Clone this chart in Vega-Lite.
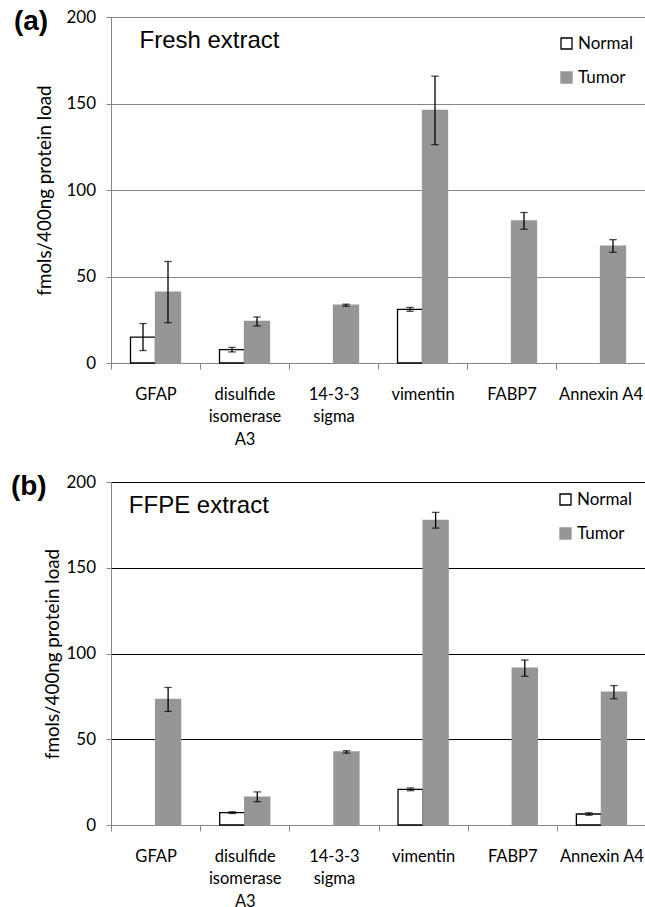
{
  "$schema": "https://vega.github.io/schema/vega-lite/v6.json",
  "padding": {"left": 10, "top": 7, "right": 0, "bottom": 0},
  "spacing": 119,
  "bounds": "flush",
  "config": {
    "font": "Lato",
    "axis": {"labelColor": "black", "titleColor": "black", "labelFont": "Lato", "titleFont": "Lato"}
  },
  "datasets": {
    "fresh": [
      {"protein": "GFAP", "group": "Normal", "value": 15.0, "lo": 7.2, "hi": 22.8},
      {"protein": "GFAP", "group": "Tumor", "value": 41.0, "lo": 23.3, "hi": 58.7},
      {"protein": "disulfide isomerase A3", "group": "Normal", "value": 7.7, "lo": 6.4, "hi": 9.0},
      {"protein": "disulfide isomerase A3", "group": "Tumor", "value": 24.0, "lo": 21.4, "hi": 26.6},
      {"protein": "14-3-3 sigma", "group": "Tumor", "value": 33.4, "lo": 32.8, "hi": 34.0},
      {"protein": "vimentin", "group": "Normal", "value": 31.0, "lo": 29.9, "hi": 32.1},
      {"protein": "vimentin", "group": "Tumor", "value": 146.0, "lo": 126.2, "hi": 165.8},
      {"protein": "FABP7", "group": "Tumor", "value": 82.1, "lo": 77.3, "hi": 87.0},
      {"protein": "Annexin A4", "group": "Tumor", "value": 67.6, "lo": 64.0, "hi": 71.3}
    ],
    "ffpe": [
      {"protein": "GFAP", "group": "Tumor", "value": 73.2, "lo": 66.2, "hi": 80.2},
      {"protein": "disulfide isomerase A3", "group": "Normal", "value": 7.2, "lo": 6.7, "hi": 7.7},
      {"protein": "disulfide isomerase A3", "group": "Tumor", "value": 16.3, "lo": 13.6, "hi": 19.3},
      {"protein": "14-3-3 sigma", "group": "Tumor", "value": 42.6, "lo": 41.9, "hi": 43.3},
      {"protein": "vimentin", "group": "Normal", "value": 20.8, "lo": 20.0, "hi": 21.6},
      {"protein": "vimentin", "group": "Tumor", "value": 177.6, "lo": 173.1, "hi": 182.3},
      {"protein": "FABP7", "group": "Tumor", "value": 91.4, "lo": 86.7, "hi": 96.2},
      {"protein": "Annexin A4", "group": "Normal", "value": 6.4, "lo": 5.7, "hi": 7.1},
      {"protein": "Annexin A4", "group": "Tumor", "value": 77.4, "lo": 73.6, "hi": 81.3}
    ]
  },
  "resolve": {
    "scale": {"fill": "independent", "stroke": "independent", "x": "independent", "y": "independent", "xOffset": "independent"},
    "legend": {"fill": "independent", "stroke": "independent"}
  },
  "vconcat": [
    {
      "width": 534,
      "height": 346,
      "view": {"stroke": "#868686"},
      "title": {"text": "(a)", "orient": "left", "anchor": "end", "frame": "bounds", "angle": 0, "align": "right", "baseline": "top", "font": "Liberation Sans", "fontSize": 28, "fontWeight": "bold", "color": "black", "offset": -46.5},
      "layer": [
        {
          "data": {"name": "fresh"},
          "mark": {"type": "bar", "strokeWidth": 1.3},
          "encoding": {
            "x": {"field": "protein", "type": "nominal", "sort": ["GFAP", "disulfide isomerase A3", "14-3-3 sigma", "vimentin", "FABP7", "Annexin A4"],
              "scale": {"paddingInner": 0, "paddingOuter": 0},
              "axis": {"title": null, "labelAngle": 0, "tickBand": "extent", "domainColor": "#868686", "tickColor": "#868686", "tickSize": 6, "labelPadding": 17, "labelFontSize": 16.5, "labelLineHeight": 22.5, "labelBaseline": "top", "labelLimit": 0,
                "labelExpr": "datum.value == 'disulfide isomerase A3' ? ['disulfide', 'isomerase', 'A3'] : datum.value == '14-3-3 sigma' ? ['14-3-3', 'sigma'] : datum.value"}},
            "xOffset": {"field": "group", "type": "nominal", "scale": {"domain": ["Normal", "Tumor"], "paddingInner": 0, "paddingOuter": 0.78}},
            "y": {"field": "value", "type": "quantitative", "scale": {"domain": [0, 200], "nice": false},
              "axis": {"title": "fmols/400ng protein load", "values": [0, 50, 100, 150, 200], "grid": true, "gridColor": "#868686", "gridOpacity": 1, "domainColor": "#868686", "tickColor": "#868686", "tickSize": 5, "labelPadding": 10.5, "labelFontSize": 17, "titleFontSize": 18.8, "titleFontWeight": "normal", "titlePadding": 11}},
            "fill": {"field": "group", "type": "nominal", "scale": {"domain": ["Normal", "Tumor"], "range": ["white", "#969696"]},
              "legend": {"title": null, "orient": "none", "legendX": 447, "legendY": 18, "symbolType": "square", "symbolSize": 121, "symbolStrokeWidth": 1.3, "labelFontSize": 17, "labelColor": "black", "labelOffset": 3, "rowPadding": 16}},
            "stroke": {"field": "group", "type": "nominal", "scale": {"domain": ["Normal", "Tumor"], "range": ["black", "#969696"]}}
          }
        },
        {
          "data": {"name": "fresh"},
          "mark": {"type": "rule", "color": "black", "strokeWidth": 1.3},
          "encoding": {
            "x": {"field": "protein", "type": "nominal", "sort": ["GFAP", "disulfide isomerase A3", "14-3-3 sigma", "vimentin", "FABP7", "Annexin A4"]},
            "xOffset": {"field": "group", "type": "nominal"},
            "y": {"field": "lo", "type": "quantitative"},
            "y2": {"field": "hi"}
          }
        },
        {
          "data": {"name": "fresh"},
          "mark": {"type": "tick", "color": "black", "size": 7.5, "thickness": 1.3},
          "encoding": {
            "x": {"field": "protein", "type": "nominal", "sort": ["GFAP", "disulfide isomerase A3", "14-3-3 sigma", "vimentin", "FABP7", "Annexin A4"]},
            "xOffset": {"field": "group", "type": "nominal"},
            "y": {"field": "lo", "type": "quantitative"}
          }
        },
        {
          "data": {"name": "fresh"},
          "mark": {"type": "tick", "color": "black", "size": 7.5, "thickness": 1.3},
          "encoding": {
            "x": {"field": "protein", "type": "nominal", "sort": ["GFAP", "disulfide isomerase A3", "14-3-3 sigma", "vimentin", "FABP7", "Annexin A4"]},
            "xOffset": {"field": "group", "type": "nominal"},
            "y": {"field": "hi", "type": "quantitative"}
          }
        },
        {
          "data": {"values": [{"label": "Fresh extract"}]},
          "mark": {"type": "text", "font": "Liberation Sans", "fontSize": 24, "align": "left", "baseline": "alphabetic", "color": "black"},
          "encoding": {
            "x": {"datum": "GFAP", "bandPosition": 0.32},
            "y": {"datum": 182},
            "text": {"field": "label"}
          }
        }
      ]
    },
    {
      "width": 535,
      "height": 343,
      "view": {"stroke": null},
      "title": {"text": "(b)", "orient": "left", "anchor": "end", "frame": "bounds", "angle": 0, "align": "right", "baseline": "top", "font": "Liberation Sans", "fontSize": 28, "fontWeight": "bold", "color": "black", "offset": -38.5},
      "layer": [
        {
          "data": {"name": "ffpe"},
          "mark": {"type": "bar", "strokeWidth": 1.3},
          "encoding": {
            "x": {"field": "protein", "type": "nominal", "sort": ["GFAP", "disulfide isomerase A3", "14-3-3 sigma", "vimentin", "FABP7", "Annexin A4"],
              "scale": {"paddingInner": 0, "paddingOuter": 0},
              "axis": {"title": null, "labelAngle": 0, "tickBand": "extent", "domainColor": "#868686", "tickColor": "#868686", "tickSize": 6, "labelPadding": 17, "labelFontSize": 16.5, "labelLineHeight": 22.5, "labelBaseline": "top", "labelLimit": 0,
                "labelExpr": "datum.value == 'disulfide isomerase A3' ? ['disulfide', 'isomerase', 'A3'] : datum.value == '14-3-3 sigma' ? ['14-3-3', 'sigma'] : datum.value"}},
            "xOffset": {"field": "group", "type": "nominal", "scale": {"domain": ["Normal", "Tumor"], "paddingInner": 0, "paddingOuter": 0.78}},
            "y": {"field": "value", "type": "quantitative", "scale": {"domain": [0, 200], "nice": false},
              "axis": {"title": "fmols/400ng protein load", "values": [0, 50, 100, 150, 200], "grid": true, "gridColor": "black", "gridOpacity": 1, "domainColor": "#868686", "tickColor": "#868686", "tickSize": 5, "labelPadding": 10.5, "labelFontSize": 17, "titleFontSize": 18.8, "titleFontWeight": "normal", "titlePadding": 3}},
            "fill": {"field": "group", "type": "nominal", "scale": {"domain": ["Normal", "Tumor"], "range": ["white", "#969696"]},
              "legend": {"title": null, "orient": "none", "legendX": 446, "legendY": 9, "symbolType": "square", "symbolSize": 121, "symbolStrokeWidth": 1.3, "labelFontSize": 17, "labelColor": "black", "labelOffset": 3, "rowPadding": 16}},
            "stroke": {"field": "group", "type": "nominal", "scale": {"domain": ["Normal", "Tumor"], "range": ["black", "#969696"]}}
          }
        },
        {
          "data": {"name": "ffpe"},
          "mark": {"type": "rule", "color": "black", "strokeWidth": 1.3},
          "encoding": {
            "x": {"field": "protein", "type": "nominal", "sort": ["GFAP", "disulfide isomerase A3", "14-3-3 sigma", "vimentin", "FABP7", "Annexin A4"]},
            "xOffset": {"field": "group", "type": "nominal"},
            "y": {"field": "lo", "type": "quantitative"},
            "y2": {"field": "hi"}
          }
        },
        {
          "data": {"name": "ffpe"},
          "mark": {"type": "tick", "color": "black", "size": 7.5, "thickness": 1.3},
          "encoding": {
            "x": {"field": "protein", "type": "nominal", "sort": ["GFAP", "disulfide isomerase A3", "14-3-3 sigma", "vimentin", "FABP7", "Annexin A4"]},
            "xOffset": {"field": "group", "type": "nominal"},
            "y": {"field": "lo", "type": "quantitative"}
          }
        },
        {
          "data": {"name": "ffpe"},
          "mark": {"type": "tick", "color": "black", "size": 7.5, "thickness": 1.3},
          "encoding": {
            "x": {"field": "protein", "type": "nominal", "sort": ["GFAP", "disulfide isomerase A3", "14-3-3 sigma", "vimentin", "FABP7", "Annexin A4"]},
            "xOffset": {"field": "group", "type": "nominal"},
            "y": {"field": "hi", "type": "quantitative"}
          }
        },
        {
          "data": {"values": [{"label": "FFPE extract"}]},
          "mark": {"type": "text", "font": "Liberation Sans", "fontSize": 24, "align": "left", "baseline": "alphabetic", "color": "black"},
          "encoding": {
            "x": {"datum": "GFAP", "bandPosition": 0.2},
            "y": {"datum": 181.7},
            "text": {"field": "label"}
          }
        }
      ]
    }
  ]
}
